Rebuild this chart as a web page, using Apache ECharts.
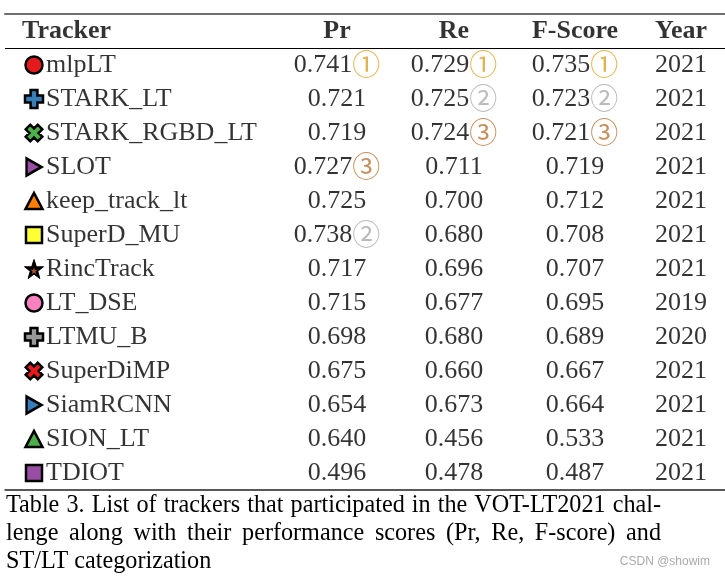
<!DOCTYPE html>
<html>
<head>
<meta charset="utf-8">
<script src="https://cdn.jsdelivr.net/npm/echarts@6/dist/echarts.min.js"></script>
<style>
  html, body { margin: 0; padding: 0; background: #fff; }
  #chart { width: 725px; height: 576px; }
</style>
</head>
<body>
<div id="chart"></div>
<script>
// ---------- data ----------
const headers = ['Tracker', 'Pr', 'Re', 'F-Score', 'Year'];
const trackers = ['mlpLT', 'STARK_LT', 'STARK_RGBD_LT', 'SLOT', 'keep_track_lt', 'SuperD_MU',
  'RincTrack', 'LT_DSE', 'LTMU_B', 'SuperDiMP', 'SiamRCNN', 'SION_LT', 'TDIOT'];
const prValues = [0.741, 0.721, 0.719, 0.727, 0.725, 0.738, 0.717, 0.715, 0.698, 0.675, 0.654, 0.640, 0.496];
const reValues = [0.729, 0.725, 0.724, 0.711, 0.700, 0.680, 0.696, 0.677, 0.680, 0.660, 0.673, 0.456, 0.478];
const fValues  = [0.735, 0.723, 0.721, 0.719, 0.712, 0.708, 0.707, 0.695, 0.689, 0.667, 0.664, 0.533, 0.487];
const years    = [2021, 2021, 2021, 2021, 2021, 2021, 2021, 2019, 2020, 2021, 2021, 2021, 2021];
const captionLines = [
  'Table 3. List of trackers that participated in the VOT-LT2021 chal-',
  'lenge along with their performance scores (Pr, Re, F-score) and',
  'ST/LT categorization'
];
const watermark = 'CSDN @showim';

// ---------- styles / layout ----------
const markerStyles = [
  { symbol: 'circle', color: '#e41a1c' },
  { symbol: 'plus', color: '#377eb8' },
  { symbol: 'cross', color: '#4daf4a' },
  { symbol: 'right', color: '#984ea3' },
  { symbol: 'triangle', color: '#ff7f00' },
  { symbol: 'rect', color: '#ffff33' },
  { symbol: 'star', color: '#a65628' },
  { symbol: 'circle', color: '#f781bf' },
  { symbol: 'plus', color: '#999999' },
  { symbol: 'cross', color: '#e41a1c' },
  { symbol: 'right', color: '#377eb8' },
  { symbol: 'triangle', color: '#4daf4a' },
  { symbol: 'rect', color: '#984ea3' }
];
const PLUS = 'path://M3.1,0 H6.9 V3.1 H10 V6.9 H6.9 V10 H3.1 V6.9 H0 V3.1 H3.1 Z';
const RIGHT = 'path://M0,0 L10,5 L0,10 Z';
const STAR = 'path://M50,0 L61.8,35.1 L97.6,34.5 L69,56 L79.4,90.5 L50,70 L20.6,90.5 L31,56 L2.4,34.5 L38.2,35.1 Z';
const symbolDefs = {
  circle: { symbol: 'circle', size: 17, rotate: 0 },
  plus: { symbol: PLUS, size: 18, rotate: 0 },
  cross: { symbol: PLUS, size: 17, rotate: 45 },
  right: { symbol: RIGHT, size: [15, 17], rotate: 0 },
  triangle: { symbol: 'triangle', size: [17, 16], rotate: 0 },
  rect: { symbol: 'rect', size: 16, rotate: 0 },
  star: { symbol: STAR, size: 19, rotate: 0 }
};
const markerX = 34;
const nameX = 46;
const headerX = 22;
const colX = [337, 454, 575, 681];
const rankColors = ['#d9a020', '#a9a9a9', '#b87333'];
const rankGlyphs = ['①', '②', '③'];
const SERIF = "'Liberation Serif', 'Times New Roman', serif";
const FS = 26;
const CAP_FS = 26, CAP_SX = 0.93;
const CAP_LEFT = 6, CAP_RIGHT = 661, CAP_TOP = 491, CAP_LH = 28;

// rank (1..3) of each value in its column, 0 otherwise
function topRanks(values) {
  const order = values.map((v, i) => i).sort((a, b) => values[b] - values[a]);
  const r = values.map(() => 0);
  order.slice(0, 3).forEach((idx, k) => { r[idx] = k + 1; });
  return r;
}
const columns = [prValues, reValues, fValues];
const columnRanks = columns.map(topRanks);

// ---------- series data ----------
const markerData = trackers.map((t, i) => {
  const ms = markerStyles[i];
  const d = symbolDefs[ms.symbol];
  const isStar = ms.symbol === 'star';
  return {
    value: [markerX, i + 1.5],
    symbol: d.symbol,
    symbolSize: d.size,
    symbolRotate: d.rotate,
    itemStyle: { color: isStar ? '#000' : ms.color, borderColor: '#000', borderWidth: isStar ? 1 : 2.5, opacity: 1 }
  };
});
const starCenterData = [];
markerStyles.forEach((ms, i) => {
  if (ms.symbol === 'star') {
    starCenterData.push({ value: [markerX, i + 1.55], itemStyle: { color: ms.color, opacity: 1 } });
  }
});

const nameData = trackers.map((t, i) => ({ value: [nameX, i + 1.5], name: t }));

const headerData = headers.map((h, j) => ({
  value: [j === 0 ? headerX : colX[j - 1], 0.5],
  name: h,
  label: { align: j === 0 ? 'left' : 'center' }
}));

const cellData = [];
columns.forEach((vals, c) => {
  vals.forEach((v, i) => {
    const rk = columnRanks[c][i];
    const txt = '{v|' + v.toFixed(3) + '}' + (rk ? '{r' + rk + '|' + rankGlyphs[rk - 1] + '}' : '');
    cellData.push({ value: [colX[c], i + 1.5], name: txt });
  });
});
years.forEach((y, i) => {
  cellData.push({ value: [colX[3], i + 1.5], name: '{v|' + y + '}' });
});

const richStyles = { v: { fontFamily: SERIF, fontSize: FS, color: '#000' } };
rankColors.forEach((c, k) => {
  richStyles['r' + (k + 1)] = { fontFamily: "'Noto Sans CJK SC', 'DejaVu Sans', sans-serif", fontSize: 28, color: c, padding: [0, 0, 2, 0] };
});

// ---------- justified caption (word placement measured with canvas) ----------
const measureCtx = document.createElement('canvas').getContext('2d');
measureCtx.font = CAP_FS + 'px ' + SERIF;
const spaceW = measureCtx.measureText(' ').width * CAP_SX;
const captionElements = [];
captionLines.forEach((line, li) => {
  const y = CAP_TOP + li * CAP_LH + CAP_LH / 2;
  const justify = li < captionLines.length - 1;
  const words = line.split(' ');
  const widths = words.map(w => measureCtx.measureText(w).width * CAP_SX);
  const total = widths.reduce((a, b) => a + b, 0);
  const gap = justify ? (CAP_RIGHT - CAP_LEFT - total) / (words.length - 1) : spaceW;
  let x = CAP_LEFT;
  words.forEach((w, k) => {
    captionElements.push({ type: 'text', x: x, y: y, scaleX: CAP_SX,
      style: { text: w, font: CAP_FS + 'px ' + SERIF, fill: '#000', align: 'left', verticalAlign: 'middle' } });
    x += widths[k] + gap;
  });
});

const chart = echarts.init(document.getElementById('chart'), null, { renderer: 'canvas' });
chart.setOption({
  animation: false,
  backgroundColor: '#fff',
  title: [
    {
      text: watermark,
      right: 15, top: 556, padding: 0,
      textStyle: { fontFamily: "'Liberation Sans Narrow', 'Liberation Sans', sans-serif", fontSize: 12, fontWeight: 'normal', color: '#aaa' }
    }
  ],
  graphic: captionElements,
  grid: { left: 5, right: 0, top: 14, height: 476 },
  xAxis: [
    { type: 'value', min: 5, max: 725, position: 'bottom',
      axisLine: { show: true, onZero: false, lineStyle: { color: '#222', width: 1.5 } },
      axisTick: { show: false }, axisLabel: { show: false }, splitLine: { show: false } },
    { type: 'value', min: 5, max: 725, position: 'top',
      axisLine: { show: true, onZero: false, lineStyle: { color: '#6e6e6e', width: 2 } },
      axisTick: { show: false }, axisLabel: { show: false }, splitLine: { show: false } }
  ],
  yAxis: { type: 'value', min: 0, max: 14, inverse: true, show: false },
  series: [
    {
      type: 'scatter', data: markerData, silent: true, z: 3,
      itemStyle: { opacity: 1 },
      emphasis: { disabled: true },
      markLine: {
        silent: true, symbol: 'none', label: { show: false },
        lineStyle: { color: '#000', width: 1, type: 'solid', opacity: 1 },
        data: [{ yAxis: 1 }]
      }
    },
    {
      type: 'scatter', data: starCenterData, symbol: STAR, symbolSize: 7, silent: true, z: 4,
      itemStyle: { opacity: 1 },
      emphasis: { disabled: true }
    },
    {
      type: 'scatter', data: nameData, symbolSize: 0, silent: true, emphasis: { disabled: true },
      label: { show: true, position: [0, 0], align: 'left', verticalAlign: 'middle',
        formatter: p => p.name, fontFamily: SERIF, fontSize: FS, color: '#000' }
    },
    {
      type: 'scatter', data: headerData, symbolSize: 0, silent: true, emphasis: { disabled: true },
      label: { show: true, position: [0, 0], verticalAlign: 'middle',
        formatter: p => p.name, fontFamily: SERIF, fontSize: FS, fontWeight: 'bold', color: '#000' }
    },
    {
      type: 'scatter', data: cellData, symbolSize: 0, silent: true, emphasis: { disabled: true },
      label: { show: true, position: [0, 0], align: 'center', verticalAlign: 'middle',
        formatter: p => p.name, rich: richStyles }
    }
  ]
});
</script>
</body>
</html>
